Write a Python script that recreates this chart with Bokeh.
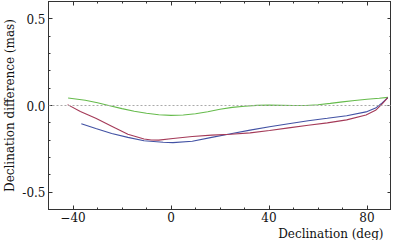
from bokeh.plotting import figure
from bokeh.models import LinearAxis, FixedTicker, Range1d, Span, Title
from bokeh.embed import file_html
from bokeh.resources import INLINE

# Declination (deg) and declination difference (mas) per curve
green_dec = [-42, -35, -30, -25, -20, -15, -10, -5, 0, 5, 10, 15, 20, 25, 30, 35, 40, 45, 50, 55, 60, 65, 70, 75, 80, 85, 88.5]
green_val = [0.043, 0.030, 0.016, -0.001, -0.018, -0.033, -0.045, -0.053, -0.057, -0.055, -0.048, -0.036, -0.022, -0.011,
             -0.004, 0.001, 0.002, 0.001, 0.0, 0.0, 0.004, 0.012, 0.021, 0.029, 0.036, 0.042, 0.047]

red_dec = [-42.2, -37, -30.7, -24.2, -17.6, -11, -8, -5, 0.8, 8.7, 16.6, 24.4, 32.3, 40.2, 48, 56, 63.8, 71.7, 79.6, 83.5, 86.2, 88.5]
red_val = [0.005, -0.035, -0.074, -0.120, -0.166, -0.193, -0.199, -0.200, -0.190, -0.179, -0.171, -0.166, -0.158, -0.144,
           -0.129, -0.114, -0.100, -0.083, -0.055, -0.028, 0.009, 0.046]

blue_dec = [-36.6, -30.7, -24.2, -17.6, -11, -3.2, 0.8, 8.7, 16.6, 24.4, 32.3, 40.2, 48, 56, 63.8, 71.7, 79.6, 83.5, 86.2, 88.5]
blue_val = [-0.105, -0.133, -0.162, -0.184, -0.203, -0.212, -0.214, -0.206, -0.184, -0.163, -0.142, -0.123, -0.105, -0.088,
            -0.074, -0.059, -0.037, -0.015, 0.015, 0.046]

x_major = [-40, 0, 40, 80]
x_minor = list(range(-50, 91, 10))
y_major = [-0.5, 0.0, 0.5]
y_minor = [round(-0.6 + 0.1 * i, 1) for i in range(13)]
y_labels = {-0.5: "-0.5", 0.0: "0.0", 0.5: "0.5"}
x_title = "Declination (deg)"
y_title = "Declination difference (mas)"

FONT = "DejaVu Serif"
EDGE = "#333333"
TXT = "#111111"

p = figure(width=391, height=240, x_range=Range1d(-50, 90), y_range=Range1d(-0.6, 0.6),
           output_backend="svg", toolbar_location=None,
           min_border_top=1, min_border_right=0, min_border_left=0, min_border_bottom=0)
p.xgrid.visible = False
p.ygrid.visible = False
p.outline_line_color = EDGE
p.background_fill_color = "white"
p.border_fill_color = "white"


def style(ax, labels=True):
    ax.axis_line_color = EDGE
    ax.major_tick_line_color = EDGE
    ax.minor_tick_line_color = EDGE
    ax.major_tick_in = 4
    ax.major_tick_out = 0
    ax.minor_tick_in = 2
    ax.minor_tick_out = 0
    ax.major_label_text_font = FONT
    ax.major_label_text_color = TXT
    if labels:
        ax.major_label_text_font_size = "12px"
    else:
        ax.major_label_text_font_size = "0px"
        ax.major_label_text_color = None
        ax.major_label_standoff = 0
        ax.axis_label_standoff = 0


p.xaxis.ticker = FixedTicker(ticks=x_major, minor_ticks=x_minor)
p.yaxis.ticker = FixedTicker(ticks=y_major, minor_ticks=y_minor)
style(p.xaxis[0])
style(p.yaxis[0])
p.xaxis.major_label_standoff = 2
p.yaxis.major_label_standoff = 3
p.yaxis.major_label_overrides = y_labels

ya = p.yaxis[0]
ya.axis_label = y_title
ya.axis_label_text_font = FONT
ya.axis_label_text_font_size = "12px"
ya.axis_label_text_font_style = "normal"
ya.axis_label_standoff = 2
ya.axis_label_text_color = TXT

top = LinearAxis(ticker=FixedTicker(ticks=x_major, minor_ticks=x_minor))
style(top, labels=False)
p.add_layout(top, "above")
right = LinearAxis(ticker=FixedTicker(ticks=y_major, minor_ticks=y_minor))
style(right, labels=False)
p.add_layout(right, "right")

p.add_layout(Title(text=x_title, align="right", offset=8, standoff=0, text_font=FONT, text_font_size="12px",
                   text_font_style="normal", text_color=TXT), "below")

p.add_layout(Span(location=0, dimension="width", line_color="#aaaaaa", line_dash="2 2", line_width=1))

p.line(green_dec, green_val, line_color="#66bb4c", line_width=1.1)
p.line(blue_dec, blue_val, line_color="#4252a4", line_width=1.1)
p.line(red_dec, red_val, line_color="#a43a58", line_width=1.1)

open("out.html", "w").write(file_html(p, INLINE))
